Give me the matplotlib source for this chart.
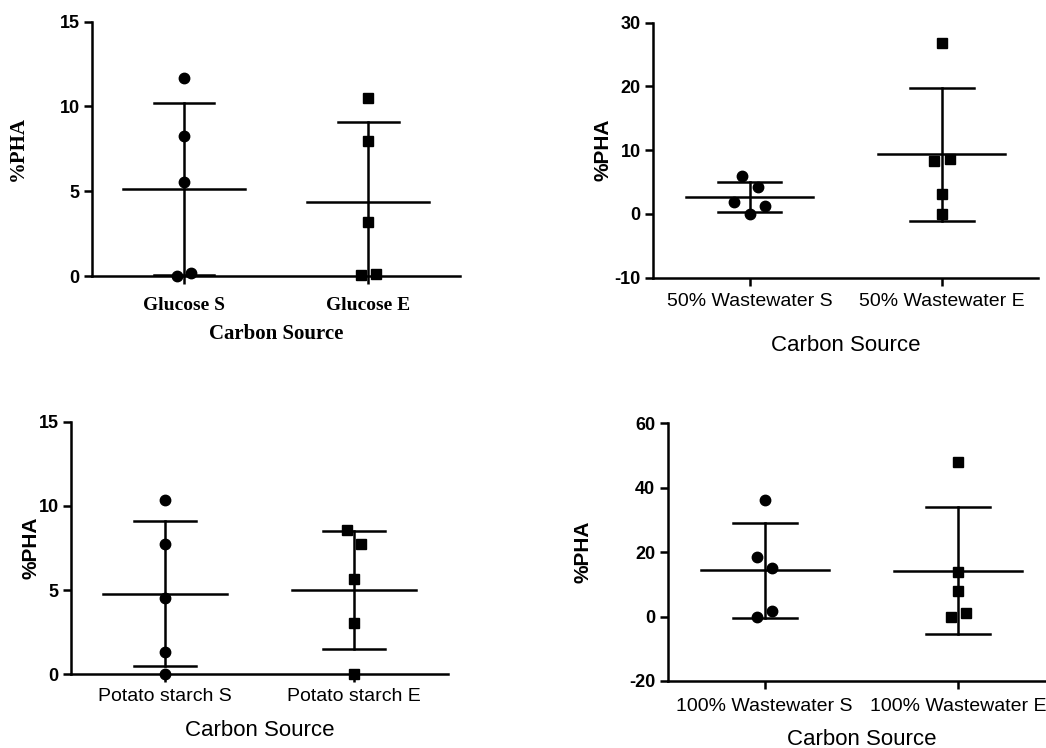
import numpy as np
import matplotlib
matplotlib.use("Agg")
from matplotlib import pyplot as plt

plt.rcParams["axes.unicode_minus"] = False

# %PHA values per carbon source (S and E groups)
glucose_s = [11.66, 8.26, 5.56, 0.0, 0.2]
glucose_e = [10.48, 7.98, 3.2, 0.05, 0.1]
ww50_s = [5.9, 4.23, 1.88, 1.2, 0.0]
ww50_e = [26.8, 8.25, 8.6, 3.18, 0.0]
potato_s = [10.35, 7.74, 4.55, 1.34, 0.0]
potato_e = [8.57, 7.76, 5.64, 3.03, 0.0]
ww100_s = [36.2, 18.4, 15.2, 1.86, 0.0]
ww100_e = [48.0, 13.8, 8.07, 0.0, 1.24]

# horizontal scatter of the points around each category
glucose_s_dx = [0, 0, 0, -0.04, 0.04]
glucose_e_dx = [0, 0, 0, -0.04, 0.04]
ww50_s_dx = [-0.037, 0.042, -0.08, 0.082, 0]
ww50_e_dx = [0, -0.04, 0.04, 0, 0]
potato_s_dx = [0, 0, 0, 0, 0]
potato_e_dx = [-0.035, 0.04, 0, 0, 0]
ww100_s_dx = [0, -0.04, 0.04, 0.04, -0.04]
ww100_e_dx = [0, 0, 0, -0.04, 0.04]

glucose_labels = ["Glucose S", "Glucose E"]
ww50_labels = ["50% Wastewater S", "50% Wastewater E"]
potato_labels = ["Potato starch S", "Potato starch E"]
ww100_labels = ["100% Wastewater S", "100% Wastewater E"]

SANS = "Liberation Sans"
SERIF = "Liberation Serif"


def panel(rect, groups, offsets, labels, ylim, yticks, ylab_x, xpad, lpad, serif=False):
    ax = fig.add_axes(rect)
    markers = ["o", "s"]
    for i, (vals, dx) in enumerate(zip(groups, offsets)):
        vals = np.array(vals)
        m = vals.mean()
        sd = vals.std(ddof=1)
        # mean line + SD bar with caps
        ax.plot([i - 0.33, i + 0.33], [m, m], color="k", lw=1.8, zorder=2)
        ax.plot([i, i], [m - sd, m + sd], color="k", lw=1.8, zorder=2)
        for y in (m - sd, m + sd):
            ax.plot([i - 0.165, i + 0.165], [y, y], color="k", lw=1.8, zorder=2)
        ax.plot(i + np.array(dx), vals, ls="none", marker=markers[i],
                ms=7.5, color="k", zorder=3, clip_on=False)
    ax.set_xlim(-0.5, 1.5)
    ax.set_ylim(*ylim)
    ax.set_yticks(yticks)
    ax.set_yticklabels([str(v) for v in yticks], fontfamily=SANS,
                       fontweight="bold", fontsize=13)
    ax.set_xticks([0, 1])
    for s in ("top", "right"):
        ax.spines[s].set_visible(False)
    for s in ("left", "bottom"):
        ax.spines[s].set_linewidth(1.8)
    ax.tick_params(width=1.8, length=6, direction="out")
    ax.tick_params(axis="y", pad=3)
    ax.tick_params(axis="x", pad=xpad)
    if serif:
        ax.set_xticklabels(labels, fontfamily=SERIF, fontweight="bold", fontsize=14)
        ax.set_xlabel("Carbon Source", fontfamily=SERIF, fontweight="bold",
                      fontsize=15, labelpad=lpad)
        ax.set_ylabel("%PHA", fontfamily=SERIF, fontweight="bold", fontsize=15)
    else:
        ax.set_xticklabels(labels, fontfamily=SANS, fontsize=14)
        ax.set_xlabel("Carbon Source", fontfamily=SANS, fontsize=16, labelpad=lpad)
        ax.set_ylabel("%PHA", fontfamily=SANS, fontweight="bold", fontsize=15)
    ax.yaxis.set_label_coords(ylab_x, 0.5)
    return ax


fig = plt.figure(figsize=(10.46, 7.48), dpi=100)

panel([0.088, 0.631, 0.352, 0.340], [glucose_s, glucose_e],
      [glucose_s_dx, glucose_e_dx], glucose_labels, (0, 15), [0, 5, 10, 15],
      -0.174, 9, 7, serif=True)
panel([0.6246, 0.6287, 0.3678, 0.3409], [ww50_s, ww50_e],
      [ww50_s_dx, ww50_e_dx], ww50_labels, (-10, 30), [-10, 0, 10, 20, 30],
      -0.107, 5, 18)
panel([0.0679, 0.0985, 0.3604, 0.3377], [potato_s, potato_e],
      [potato_s_dx, potato_e_dx], potato_labels, (0, 15), [0, 5, 10, 15],
      -0.082, 4, 11)
panel([0.6383, 0.0896, 0.3707, 0.3445], [ww100_s, ww100_e],
      [ww100_s_dx, ww100_e_dx], ww100_labels, (-20, 60), [-20, 0, 20, 40, 60],
      -0.193, 6, 10)

fig.savefig("out.png", dpi=100)
